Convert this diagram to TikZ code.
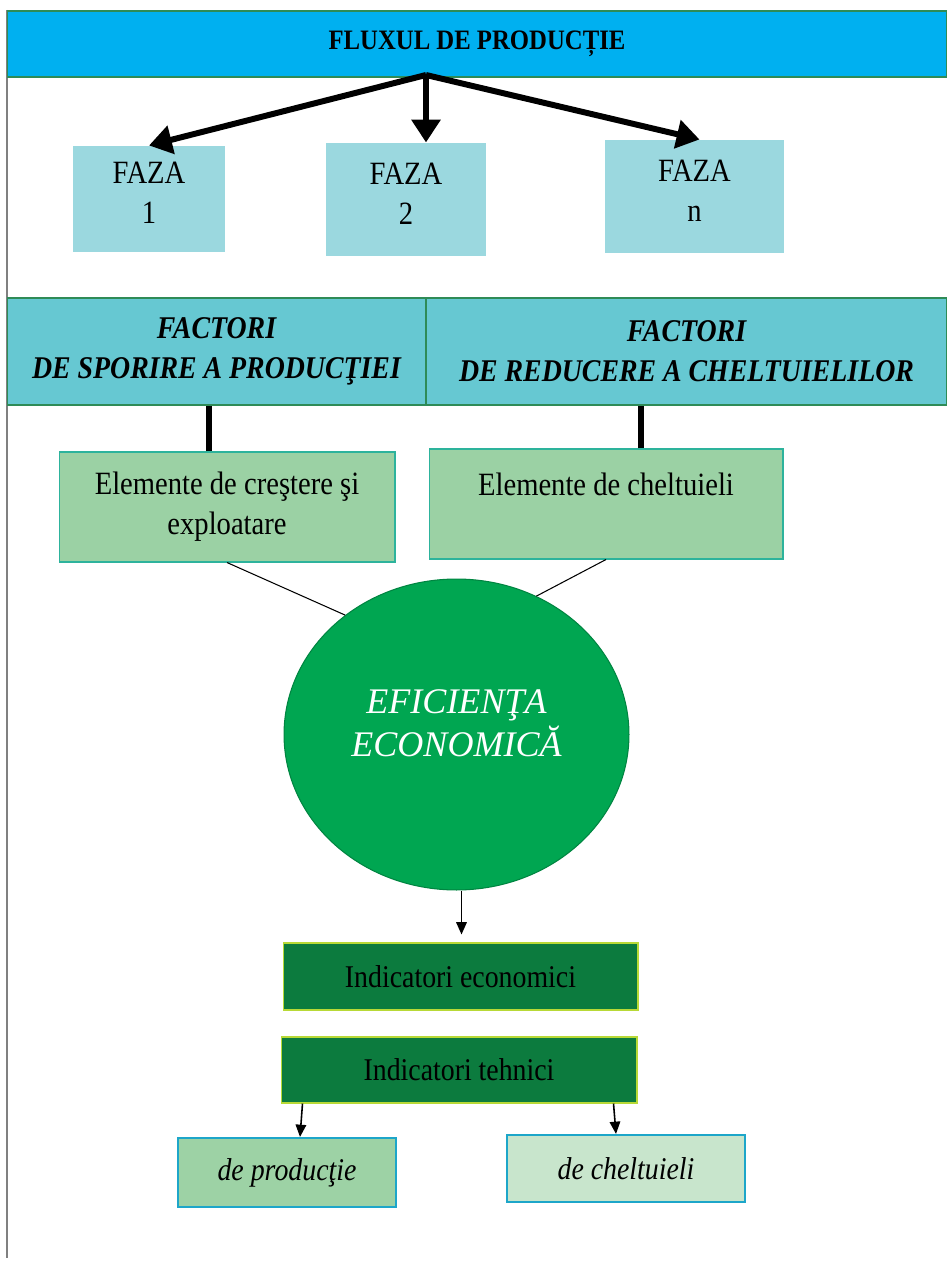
\documentclass[tikz,border=0pt]{standalone}
\usepackage{fontspec}
\setmainfont{Liberation Serif}[FakeStretch=0.88]
\newfontfamily\wideserif{Liberation Serif}
\usetikzlibrary{arrows.meta,shapes.geometric}

\definecolor{fluxblue}{HTML}{00B0F0}
\definecolor{fazateal}{HTML}{9BD8DF}
\definecolor{bandteal}{HTML}{66C8D2}
\definecolor{framegreen}{HTML}{2E8B57}
\definecolor{elemgreen}{HTML}{9BD1A4}
\definecolor{elemedge}{HTML}{2DB39C}
\definecolor{effgreen}{HTML}{00A651}
\definecolor{indgreen}{HTML}{0C7B3E}
\definecolor{indedge}{HTML}{B8D936}
\definecolor{prodgreen}{HTML}{9DD2A5}
\definecolor{cheltgreen}{HTML}{C8E5CC}
\definecolor{boxblue}{HTML}{1DA6C9}

\begin{document}
\begin{tikzpicture}[x = 0.02cm, y = -0.02cm, line width = 0.6pt,
    title/.style = {draw = framegreen, fill = fluxblue, inner sep = 0pt,
                    font = \fontsize{16}{19}\selectfont\bfseries},
    faza/.style = {fill = fazateal, inner sep = 0pt, align = center,
                   font = \fontsize{18.5}{22.8}\selectfont},
    band/.style = {draw = framegreen, fill = bandteal, inner sep = 0pt, align = center,
                   minimum height = 2.14cm,
                   font = \fontsize{18}{22.8}\selectfont\bfseries\itshape},
    elem/.style = {draw = elemedge, fill = elemgreen, inner sep = 0pt, align = center,
                   minimum height = 2.2cm, font = \fontsize{18.5}{22.8}\selectfont},
    ind/.style = {draw = indedge, fill = indgreen, inner sep = 0pt,
                  font = \fontsize{18}{20}\selectfont},
    tip/.style = {draw = boxblue, line width = 1.2pt, inner sep = 0pt,
                  font = \fontsize{18}{20}\selectfont\itshape},
    bigarrow/.style = {line width = 3.4pt, -{Triangle[length = 13pt, width = 16pt]}},
    stem/.style = {line width = 3.4pt},
    smallarrow/.style = {line width = 0.9pt, -{Triangle[length = 7pt, width = 6pt]}}]

    \useasboundingbox (0,0) rectangle (947,1263);
    \draw[gray] (7,10) -- (7,1258);

    \node [title, minimum width = 18.8cm, minimum height = 1.32cm] (flux) at (477,44) {FLUXUL DE PRODUCȚIE};

    \node [faza, minimum width = 3.06cm, minimum height = 2.12cm] (faza1) at (149,199) {FAZA\\1\\[-16pt]\mbox{}};
    \node [faza, minimum width = 3.2cm, minimum height = 2.26cm] (faza2) at (406,199.5) {FAZA\\2\\[-16pt]\mbox{}};
    \node [faza, minimum width = 3.58cm, minimum height = 2.26cm] (fazan) at (694.5,196.5) {FAZA\\n\\[-16pt]\mbox{}};

    \coordinate (fork) at (426,75);
    \draw[bigarrow] (fork) -- (faza1.north);
    \draw[bigarrow] (fork) -- (fork |- faza2.north);
    \draw[bigarrow] (fork) -- ([xshift=0.1cm]fazan.north);

    \node [band, minimum width = 8.38cm] (factsp) at (216.5,351.5) {FACTORI\\DE SPORIRE A PRODUCŢIEI};
    \node [band, minimum width = 10.42cm] (factred) at (686.5,351.5) {FACTORI\\DE REDUCERE A CHELTUIELILOR};

    \node [elem, minimum width = 6.72cm] (elem1) at (227,507) {Elemente de creştere şi\\exploatare};
    \node [elem, minimum width = 7.08cm] (elem2) at (606,504) {Elemente de cheltuieli\\\mbox{}};

    \coordinate (s1) at ([xshift=-0.36cm]elem1.north);
    \coordinate (s2) at ([xshift=0.7cm]elem2.north);
    \draw[stem] (s1) -- (s1 |- factsp.south);
    \draw[stem] (s2) -- (s2 |- factred.south);

    \node [ellipse, draw = effgreen!80!black, fill = effgreen, inner sep = 0pt,
           minimum width = 6.9cm, minimum height = 6.22cm, align = center, text = white,
           font = \wideserif\fontsize{20.5}{24.5}\selectfont\itshape] (eff) at (456.5,734.5) {EFICIENŢA\\ECONOMICĂ\\[-12pt]\mbox{}};

    \draw (elem1.south) -- (eff.133);
    \draw (elem2.south) -- (eff.60.5);

    \node [ind, minimum width = 7.1cm, minimum height = 1.34cm] (ieco) at (460.5,976.5) {Indicatori economici};
    \node [ind, minimum width = 7.12cm, minimum height = 1.32cm] (itehn) at (459,1070) {Indicatori tehnici};

    \draw[smallarrow, shorten > = 0.16cm] ([xshift=0.1cm]eff.south) -- ([xshift=0.1cm]eff.south |- ieco.north);

    \node [tip, fill = prodgreen, minimum width = 4.36cm, minimum height = 1.38cm] (prod) at (287,1172.5) {de producţie};
    \node [tip, fill = cheltgreen, minimum width = 4.76cm, minimum height = 1.34cm] (chelt) at (626,1168.5) {de cheltuieli};

    \draw[smallarrow] ([xshift=0.44cm]itehn.south west) -- ([xshift=0.26cm]prod.north);
    \draw[smallarrow] ([xshift=-0.48cm]itehn.south east) -- ([xshift=-0.2cm]chelt.north);
\end{tikzpicture}
\end{document}
